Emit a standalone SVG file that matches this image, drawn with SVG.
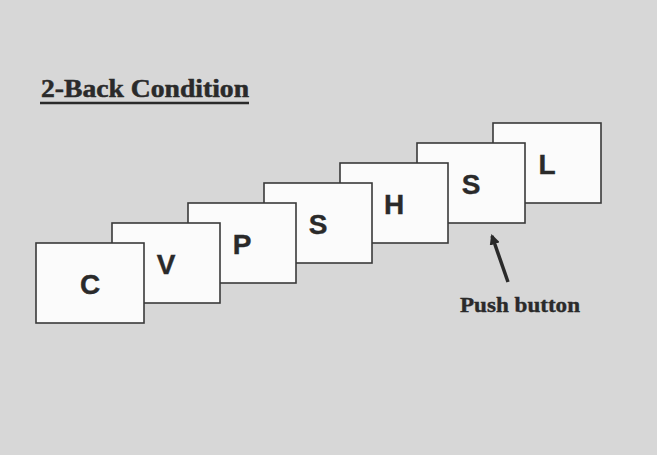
<svg xmlns="http://www.w3.org/2000/svg" width="657" height="455" viewBox="0 0 657 455">
  <style>
    .card rect { fill: #fbfbfb; stroke: #3a3a3a; stroke-width: 1.6; }
    .card text { font-family: "Liberation Sans", Arial, sans-serif; font-weight: bold; font-size: 28px; fill: #2a2a2a; stroke: #2a2a2a; stroke-width: 0.4; text-anchor: middle; }
    .title { font-family: "Liberation Serif", "Times New Roman", serif; font-weight: bold; font-size: 25px; fill: #2a2a2a; stroke: #2a2a2a; stroke-width: 0.5; }
    .label { font-family: "Liberation Serif", "Times New Roman", serif; font-weight: bold; font-size: 22px; fill: #2a2a2a; stroke: #2a2a2a; stroke-width: 0.4; }
  </style>
  <defs>
    <marker id="head" viewBox="0 0 10 10" refX="8" refY="5" markerWidth="3" markerHeight="3" orient="auto">
      <path d="M0,0 L10,5 L0,10 z" fill="#2a2a2a"/>
    </marker>
  </defs>
  <rect x="0" y="0" width="657" height="455" fill="#d7d7d7"/>

  <g id="title">
    <text class="title" x="41" y="97" textLength="208" lengthAdjust="spacingAndGlyphs">2-Back Condition</text>
    <line x1="40" y1="103" x2="249" y2="103" stroke="#2a2a2a" stroke-width="2.5"/>
  </g>

  <g id="card-L" class="card"><rect x="493" y="123" width="108" height="80"/><text x="547" y="174">L</text></g>
  <g id="card-S2" class="card"><rect x="417" y="143" width="108" height="80"/><text x="471" y="194">S</text></g>
  <g id="card-H" class="card"><rect x="340" y="163" width="108" height="80"/><text x="394" y="214">H</text></g>
  <g id="card-S1" class="card"><rect x="264" y="183" width="108" height="80"/><text x="318" y="234">S</text></g>
  <g id="card-P" class="card"><rect x="188" y="203" width="108" height="80"/><text x="242" y="254">P</text></g>
  <g id="card-V" class="card"><rect x="112" y="223" width="108" height="80"/><text x="166" y="274">V</text></g>
  <g id="card-C" class="card"><rect x="36" y="243" width="108" height="80"/><text x="90" y="294">C</text></g>

  <g id="connectors">
    <line x1="508" y1="282" x2="492" y2="236" stroke="#2a2a2a" stroke-width="3.5" marker-end="url(#head)"/>
  </g>

  <g id="push-label">
    <text class="label" x="460" y="312" textLength="120" lengthAdjust="spacingAndGlyphs">Push button</text>
  </g>
</svg>
